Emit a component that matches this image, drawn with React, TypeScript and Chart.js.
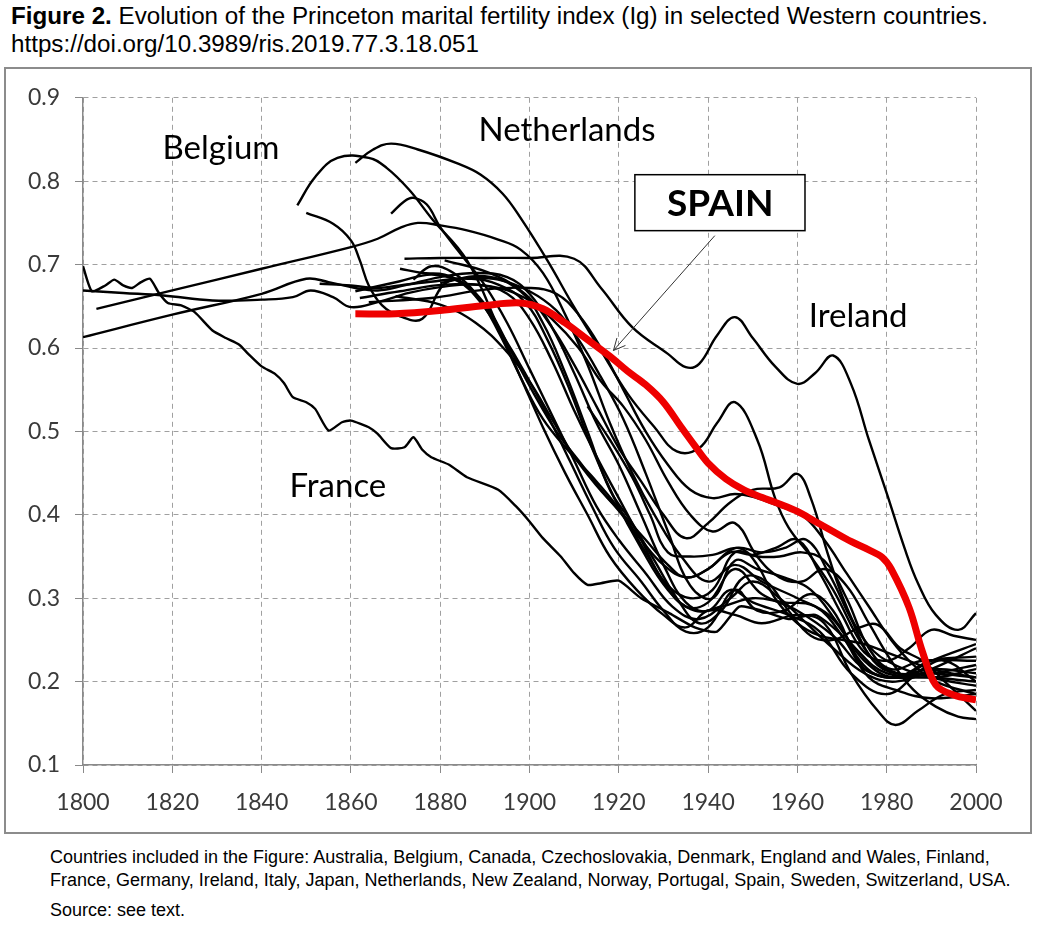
import { useEffect, useRef } from 'react'
import { Chart, registerables, type Plugin } from 'chart.js'

Chart.register(...registerables)

type Pt = [number, number]

// year, Ig
const SPAIN: Pt[] = [
  [1861, 0.641], [1870, 0.641], [1880, 0.645], [1890, 0.651], [1898, 0.654], [1903, 0.647],
  [1908, 0.63], [1913, 0.61], [1918, 0.59], [1922, 0.572], [1926, 0.556], [1930, 0.535],
  [1934, 0.505], [1937, 0.483], [1940, 0.462], [1944, 0.443], [1948, 0.43], [1952, 0.421],
  [1956, 0.413], [1960, 0.404], [1964, 0.392], [1968, 0.38], [1972, 0.368], [1976, 0.358],
  [1979, 0.349], [1981, 0.335], [1985, 0.289], [1988, 0.236], [1991, 0.196], [1995, 0.184],
  [2000, 0.178],
]

const FRANCE: Pt[] = [
  [1800, 0.698], [1802, 0.668], [1805, 0.675], [1807, 0.682], [1809, 0.675], [1811, 0.672],
  [1813, 0.679], [1815, 0.683], [1817, 0.666], [1819, 0.654], [1822, 0.651], [1825, 0.643],
  [1829, 0.621], [1832, 0.612], [1835, 0.604], [1837, 0.593], [1840, 0.578], [1843, 0.569],
  [1845, 0.558], [1847, 0.541], [1850, 0.535], [1852, 0.527], [1855, 0.501], [1858, 0.511],
  [1860, 0.513], [1864, 0.505], [1866, 0.497], [1869, 0.48], [1872, 0.481], [1874, 0.493],
  [1876, 0.478], [1878, 0.469], [1882, 0.46], [1886, 0.445], [1893, 0.43], [1897, 0.41],
  [1900, 0.392], [1903, 0.372], [1907, 0.35], [1910, 0.33], [1913, 0.316], [1916, 0.318],
  [1920, 0.321], [1925, 0.3], [1931, 0.283], [1937, 0.265], [1942, 0.26], [1947, 0.29],
  [1952, 0.285], [1958, 0.275], [1964, 0.28], [1970, 0.255], [1975, 0.215], [1980, 0.205],
  [1990, 0.205], [2000, 0.2],
]

const IRELAND: Pt[] = [
  [1872, 0.707], [1880, 0.708], [1890, 0.708], [1900, 0.708], [1910, 0.707], [1916, 0.672],
  [1923, 0.625], [1931, 0.593], [1935, 0.577], [1938, 0.581], [1942, 0.615], [1946, 0.637],
  [1950, 0.612], [1955, 0.578], [1960, 0.557], [1964, 0.57], [1968, 0.591], [1972, 0.557],
  [1976, 0.49], [1980, 0.426], [1984, 0.36], [1987, 0.318], [1991, 0.28], [1996, 0.262],
  [2000, 0.282],
]

const NETHERLANDS: Pt[] = [
  [1861, 0.822], [1865, 0.838], [1869, 0.845], [1875, 0.838], [1884, 0.821], [1889, 0.808],
  [1894, 0.785], [1898, 0.756], [1904, 0.705], [1910, 0.649], [1916, 0.597], [1922, 0.545],
  [1928, 0.505], [1933, 0.476], [1938, 0.48], [1942, 0.51], [1946, 0.535], [1951, 0.49],
  [1955, 0.42], [1958, 0.385], [1963, 0.35], [1968, 0.31], [1975, 0.24], [1980, 0.215],
  [1990, 0.205], [2000, 0.215],
]

const GERMANY: Pt[] = [
  [1848, 0.771], [1852, 0.805], [1857, 0.828], [1864, 0.828], [1868, 0.816], [1873, 0.79],
  [1878, 0.756], [1886, 0.705], [1893, 0.625], [1898, 0.565], [1903, 0.505], [1908, 0.45],
  [1913, 0.4], [1918, 0.35], [1924, 0.31], [1930, 0.28], [1935, 0.265], [1940, 0.285],
  [1946, 0.28], [1952, 0.27], [1960, 0.28], [1966, 0.27], [1972, 0.21], [1978, 0.165],
  [1982, 0.148], [1987, 0.165], [1993, 0.185], [2000, 0.19],
]

const FINLAND: Pt[] = [
  [1869, 0.761], [1872, 0.776], [1874, 0.78], [1877, 0.772], [1880, 0.745], [1885, 0.71],
  [1890, 0.675], [1895, 0.63], [1900, 0.575], [1905, 0.52], [1910, 0.465], [1915, 0.41],
  [1920, 0.37], [1926, 0.33], [1932, 0.29], [1938, 0.275], [1945, 0.3], [1950, 0.32],
  [1956, 0.3], [1962, 0.27], [1968, 0.24], [1975, 0.21], [1982, 0.2], [1990, 0.215],
  [2000, 0.24],
]

const BELGIUM: Pt[] = [
  [1803, 0.647], [1820, 0.669], [1840, 0.695], [1860, 0.721], [1866, 0.731], [1871, 0.744],
  [1875, 0.75], [1880, 0.747], [1886, 0.741], [1893, 0.73], [1898, 0.718], [1903, 0.69],
  [1908, 0.64], [1913, 0.58], [1918, 0.51], [1923, 0.45], [1928, 0.4], [1934, 0.35],
  [1940, 0.32], [1946, 0.34], [1952, 0.32], [1960, 0.3], [1967, 0.28], [1973, 0.24],
  [1980, 0.21], [1990, 0.21], [2000, 0.22],
]

const SWEDEN: Pt[] = [
  [1800, 0.613], [1820, 0.64], [1840, 0.665], [1850, 0.683], [1855, 0.679], [1861, 0.672],
  [1866, 0.669], [1872, 0.675], [1880, 0.685], [1888, 0.69], [1895, 0.685], [1900, 0.665],
  [1905, 0.625], [1910, 0.57], [1915, 0.51], [1920, 0.46], [1925, 0.4], [1930, 0.34],
  [1935, 0.295], [1940, 0.285], [1945, 0.31], [1950, 0.295], [1958, 0.28], [1965, 0.26],
  [1972, 0.21], [1980, 0.185], [1988, 0.215], [1993, 0.225], [2000, 0.2],
]

const DENMARK: Pt[] = [
  [1800, 0.669], [1809, 0.666], [1818, 0.663], [1829, 0.657], [1840, 0.658], [1847, 0.661],
  [1851, 0.669], [1856, 0.661], [1860, 0.649], [1866, 0.655], [1873, 0.666], [1880, 0.673],
  [1888, 0.676], [1895, 0.665], [1900, 0.635], [1905, 0.585], [1910, 0.525], [1915, 0.47],
  [1920, 0.42], [1925, 0.37], [1930, 0.32], [1935, 0.29], [1940, 0.295], [1946, 0.335],
  [1952, 0.305], [1960, 0.285], [1968, 0.255], [1975, 0.215], [1982, 0.205], [1990, 0.225],
  [2000, 0.23],
]

const NORWAY: Pt[] = [
  [1853, 0.677], [1860, 0.675], [1866, 0.672], [1872, 0.676], [1879, 0.68], [1886, 0.684],
  [1893, 0.682], [1900, 0.668], [1906, 0.645], [1911, 0.61], [1916, 0.565], [1921, 0.515],
  [1926, 0.45], [1931, 0.38], [1936, 0.315], [1941, 0.3], [1946, 0.345], [1951, 0.335],
  [1957, 0.325], [1963, 0.31], [1969, 0.27], [1975, 0.225], [1982, 0.205], [1990, 0.225],
  [2000, 0.245],
]

const SWITZERLAND: Pt[] = [
  [1850, 0.762], [1856, 0.749], [1860, 0.729], [1862, 0.705], [1864, 0.675], [1867, 0.651],
  [1871, 0.638], [1876, 0.635], [1881, 0.677], [1887, 0.683], [1893, 0.676], [1899, 0.655],
  [1904, 0.61], [1909, 0.55], [1914, 0.48], [1919, 0.42], [1925, 0.36], [1931, 0.31],
  [1937, 0.285], [1943, 0.29], [1950, 0.3], [1957, 0.295], [1964, 0.29], [1970, 0.255],
  [1976, 0.205], [1982, 0.19], [1990, 0.18], [2000, 0.185],
]

const ENGLAND: Pt[] = [
  [1861, 0.668], [1871, 0.68], [1878, 0.688], [1884, 0.68], [1889, 0.655], [1894, 0.615],
  [1899, 0.57], [1904, 0.52], [1909, 0.465], [1914, 0.41], [1919, 0.36], [1925, 0.32],
  [1930, 0.285], [1935, 0.26], [1940, 0.265], [1946, 0.31], [1951, 0.285], [1957, 0.285],
  [1963, 0.305], [1968, 0.285], [1974, 0.225], [1980, 0.205], [1990, 0.215], [2000, 0.21],
]

const AUSTRALIA: Pt[] = [
  [1871, 0.695], [1876, 0.69], [1881, 0.688], [1886, 0.675], [1891, 0.645], [1896, 0.595],
  [1901, 0.545], [1906, 0.5], [1911, 0.465], [1916, 0.43], [1921, 0.4], [1926, 0.37],
  [1931, 0.34], [1935, 0.325], [1940, 0.335], [1946, 0.36], [1952, 0.355], [1957, 0.36],
  [1962, 0.37], [1967, 0.33], [1972, 0.275], [1977, 0.225], [1982, 0.21], [1990, 0.21],
  [2000, 0.205],
]

const NEW_ZEALAND: Pt[] = [
  [1874, 0.682], [1878, 0.698], [1883, 0.69], [1888, 0.665], [1893, 0.62], [1898, 0.565],
  [1903, 0.515], [1909, 0.475], [1915, 0.44], [1921, 0.4], [1926, 0.355], [1931, 0.315],
  [1936, 0.3], [1941, 0.31], [1946, 0.355], [1951, 0.35], [1956, 0.35], [1961, 0.355],
  [1966, 0.345], [1971, 0.3], [1976, 0.24], [1981, 0.215], [1988, 0.225], [2000, 0.225],
]

const CANADA: Pt[] = [
  [1881, 0.705], [1891, 0.69], [1899, 0.665], [1905, 0.625], [1910, 0.58], [1915, 0.53],
  [1920, 0.48], [1925, 0.44], [1930, 0.4], [1935, 0.372], [1940, 0.39], [1945, 0.415],
  [1950, 0.43], [1956, 0.433], [1960, 0.449], [1963, 0.42], [1967, 0.35], [1971, 0.29],
  [1975, 0.25], [1980, 0.225], [1990, 0.205], [2000, 0.195],
]

const USA: Pt[] = [
  [1870, 0.662], [1880, 0.652], [1888, 0.63], [1895, 0.595], [1900, 0.56], [1905, 0.515],
  [1910, 0.47], [1915, 0.435], [1920, 0.405], [1925, 0.37], [1930, 0.34], [1935, 0.325],
  [1940, 0.335], [1945, 0.355], [1950, 0.352], [1955, 0.36], [1960, 0.37], [1965, 0.33],
  [1970, 0.28], [1975, 0.235], [1980, 0.225], [1985, 0.24], [1990, 0.262], [1995, 0.255],
  [2000, 0.25],
]

const JAPAN: Pt[] = [
  [1913, 0.53], [1918, 0.49], [1923, 0.445], [1927, 0.4], [1931, 0.355], [1936, 0.35],
  [1941, 0.352], [1947, 0.36], [1951, 0.34], [1955, 0.3], [1960, 0.27], [1965, 0.255],
  [1970, 0.25], [1975, 0.245], [1980, 0.235], [1985, 0.225], [1990, 0.215], [2000, 0.205],
]

const ITALY: Pt[] = [
  [1862, 0.66], [1871, 0.668], [1881, 0.676], [1891, 0.674], [1899, 0.66], [1905, 0.635],
  [1911, 0.6], [1916, 0.56], [1921, 0.53], [1926, 0.49], [1931, 0.44], [1936, 0.4],
  [1941, 0.38], [1946, 0.39], [1951, 0.35], [1956, 0.325], [1961, 0.32], [1966, 0.335],
  [1971, 0.315], [1976, 0.27], [1981, 0.225], [1986, 0.19], [1991, 0.17], [1996, 0.158],
  [2000, 0.155],
]

const PORTUGAL: Pt[] = [
  [1864, 0.655], [1878, 0.66], [1890, 0.67], [1900, 0.672], [1906, 0.665], [1911, 0.64],
  [1916, 0.6], [1921, 0.55], [1926, 0.5], [1931, 0.46], [1936, 0.43], [1941, 0.42],
  [1946, 0.425], [1951, 0.42], [1956, 0.41], [1961, 0.4], [1966, 0.37], [1971, 0.33],
  [1976, 0.29], [1981, 0.25], [1986, 0.22], [1991, 0.2], [2000, 0.185],
]

const CZECHOSLOVAKIA: Pt[] = [
  [1880, 0.678], [1890, 0.686], [1898, 0.668], [1903, 0.63], [1908, 0.57], [1913, 0.5],
  [1918, 0.43], [1923, 0.39], [1928, 0.345], [1933, 0.3], [1938, 0.27], [1943, 0.285],
  [1948, 0.325], [1953, 0.32], [1958, 0.285], [1963, 0.255], [1968, 0.25], [1974, 0.265],
  [1978, 0.268], [1983, 0.24], [1988, 0.225], [1993, 0.2], [2000, 0.165],
]

const OTHERS: [string, Pt[]][] = [
  ['France', FRANCE], ['Ireland', IRELAND], ['Netherlands', NETHERLANDS], ['Germany', GERMANY],
  ['Finland', FINLAND], ['Belgium', BELGIUM], ['Sweden', SWEDEN], ['Denmark', DENMARK],
  ['Norway', NORWAY], ['Switzerland', SWITZERLAND], ['England and Wales', ENGLAND],
  ['Australia', AUSTRALIA], ['New Zealand', NEW_ZEALAND], ['Canada', CANADA], ['USA', USA],
  ['Japan', JAPAN], ['Italy', ITALY], ['Portugal', PORTUGAL], ['Czechoslovakia', CZECHOSLOVAKIA],
]

// text labels inside the plot: text, year, Ig (baseline)
const LABELS: [string, number, number][] = [
  ['Belgium', 1830.9, 0.8266],
  ['Netherlands', 1908.4, 0.8477],
  ['Ireland', 1973.6, 0.6249],
  ['France', 1857.1, 0.421],
]

const BOX = { left: 1923.6, right: 1961.7, top: 0.8078, bottom: 0.7407, textX: 1942.7, textY: 0.7587 }
const ARROW = { from: [1941.5, 0.7347], to: [1918.8, 0.597] }

const FONT = 'Lato, "Noto Sans", sans-serif'
const GRID = '#a0a0a0'
const AXIS = '#8a8a8a'

const annotations: Plugin<'line'> = {
  id: 'annotations',
  afterDatasetsDraw(chart) {
    const { ctx } = chart
    const x = chart.scales.x
    const y = chart.scales.y
    ctx.save()
    ctx.fillStyle = '#000'
    ctx.textAlign = 'center'
    ctx.textBaseline = 'alphabetic'
    ctx.font = `33px ${FONT}`
    for (const [text, yr, v] of LABELS) {
      ctx.fillText(text, x.getPixelForValue(yr), y.getPixelForValue(v))
    }

    // SPAIN box
    const l = x.getPixelForValue(BOX.left)
    const r = x.getPixelForValue(BOX.right)
    const t = y.getPixelForValue(BOX.top)
    const b = y.getPixelForValue(BOX.bottom)
    ctx.fillStyle = '#fff'
    ctx.fillRect(l, t, r - l, b - t)
    ctx.strokeStyle = '#000'
    ctx.lineWidth = 1.5
    ctx.strokeRect(l, t, r - l, b - t)
    ctx.fillStyle = '#000'
    ctx.font = `bold 37px ${FONT}`
    ctx.fillText('SPAIN', x.getPixelForValue(BOX.textX), y.getPixelForValue(BOX.textY))

    // arrow
    const x1 = x.getPixelForValue(ARROW.from[0])
    const y1 = y.getPixelForValue(ARROW.from[1])
    const x2 = x.getPixelForValue(ARROW.to[0])
    const y2 = y.getPixelForValue(ARROW.to[1])
    const ang = Math.atan2(y2 - y1, x2 - x1)
    ctx.strokeStyle = '#333'
    ctx.lineWidth = 1
    ctx.beginPath()
    ctx.moveTo(x1, y1)
    ctx.lineTo(x2, y2)
    for (const d of [-0.45, 0.45]) {
      ctx.moveTo(x2, y2)
      ctx.lineTo(x2 - 13 * Math.cos(ang + d), y2 - 13 * Math.sin(ang + d))
    }
    ctx.stroke()
    ctx.restore()
  },
}

function FertilityChart() {
  const canvasRef = useRef<HTMLCanvasElement>(null)

  useEffect(() => {
    if (!canvasRef.current) return
    const toXY = (pts: Pt[]) => pts.map(([x, y]) => ({ x, y }))

    const datasets: any[] = OTHERS.map(([label, pts]) => ({
      label,
      data: toXY(pts),
      borderColor: '#000',
      borderWidth: 2.4,
      pointRadius: 0,
      tension: label === 'France' ? 0.2 : 0.4,
      fill: false,
      order: 1,
    }))
    datasets.push({
      label: 'Spain',
      data: toXY(SPAIN),
      borderColor: '#ee0000',
      borderWidth: 7,
      pointRadius: 0,
      tension: 0.35,
      borderJoinStyle: 'round',
      fill: false,
      order: 0,
    })

    const chart = new Chart(canvasRef.current, {
      type: 'line',
      data: { datasets },
      options: {
        animation: false,
        responsive: true,
        maintainAspectRatio: false,
        layout: { padding: { top: 28, right: 53, left: 0, bottom: 0 } },
        plugins: { legend: { display: false }, tooltip: { enabled: false } },
        scales: {
          x: {
            type: 'linear',
            min: 1800,
            max: 2000,
            afterFit: (s) => { s.height = 66 },
            ticks: {
              stepSize: 20,
              padding: 16,
              color: '#3a3a3a',
              font: { family: FONT, size: 23 },
              callback: (v) => String(v),
            },
            grid: { color: GRID, lineWidth: 1, tickLength: 8, tickColor: AXIS },
            border: { color: AXIS, width: 1.5, dash: [5, 4] },
          },
          y: {
            type: 'linear',
            min: 0.1,
            max: 0.9,
            afterFit: (s) => { s.width = 76 },
            ticks: {
              stepSize: 0.1,
              padding: 15,
              color: '#3a3a3a',
              font: { family: FONT, size: 23 },
              callback: (v) => Number(v).toFixed(1),
            },
            grid: { color: GRID, lineWidth: 1, tickLength: 8, tickColor: AXIS },
            border: { color: AXIS, width: 1.5, dash: [5, 4] },
          },
        },
      },
      plugins: [annotations],
    })

    return () => chart.destroy()
  }, [])

  return (
    <div style={{ position: 'absolute', left: 7, top: 69, width: 1022, height: 762 }}>
      <canvas ref={canvasRef} />
    </div>
  )
}

export default function App() {
  const sans = '"Liberation Sans", Arial, sans-serif'
  return (
    <div style={{ position: 'absolute', left: 0, top: 0, width: 1040, height: 930, background: '#fff', fontFamily: sans, color: '#000' }}>
      <div style={{ position: 'absolute', left: 11, top: 2, fontSize: 24.2, lineHeight: '28px', whiteSpace: 'nowrap' }}>
        <div><b>Figure 2.</b> Evolution of the Princeton marital fertility index (Ig) in selected Western countries.</div>
        <div>https://doi.org/10.3989/ris.2019.77.3.18.051</div>
      </div>
      <div style={{ position: 'absolute', left: 4, top: 67, width: 1028, height: 767, boxSizing: 'border-box', border: '2px solid #8c8c8c' }} />
      <FertilityChart />
      <div style={{ position: 'absolute', left: 50, top: 846, fontSize: 18, lineHeight: '23px', whiteSpace: 'nowrap' }}>
        <div>Countries included in the Figure: Australia, Belgium, Canada, Czechoslovakia, Denmark, England and Wales, Finland,</div>
        <div>France, Germany, Ireland, Italy, Japan, Netherlands, New Zealand, Norway, Portugal, Spain, Sweden, Switzerland, USA.</div>
        <div style={{ marginTop: 7 }}>Source: see text.</div>
      </div>
    </div>
  )
}
